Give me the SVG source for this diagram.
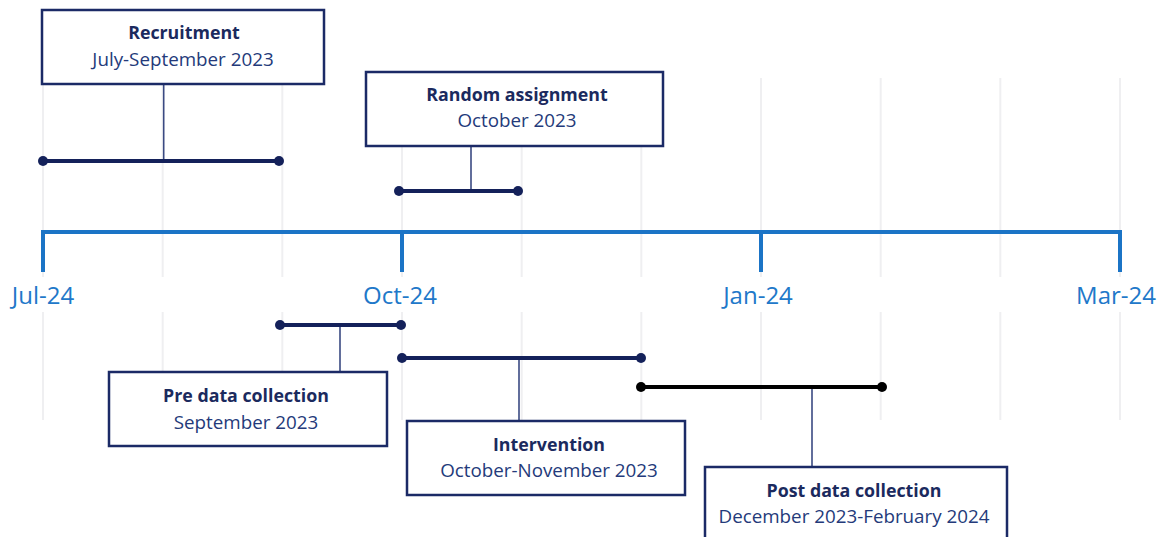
<svg xmlns="http://www.w3.org/2000/svg" width="1161" height="537" viewBox="0 0 1161 537">
<style>
.grid line{stroke:#efeff1;stroke-width:2}
.axis{fill:none;stroke:#1b74c6;stroke-width:4}
.lbl{font-family:"Open Sans","Noto Sans",sans-serif;font-size:24px;fill:#2178c9;text-anchor:middle}
.box{fill:#fff;stroke:#1b2a66;stroke-width:2.5}
.t{font-family:"Open Sans","Noto Sans",sans-serif;font-size:17.8px;font-weight:bold;fill:#1b2a5e;text-anchor:middle}
.s{font-family:"Open Sans","Noto Sans",sans-serif;font-size:18.8px;fill:#243a7a;text-anchor:middle}
.bar{stroke:#14215a;stroke-width:4}
.dot{fill:#14215a}
.conn{stroke:#3a4a82;stroke-width:1.6}
</style>
<rect width="1161" height="537" fill="#fff"/>
<g class="grid">
<line x1="43" y1="78" x2="43" y2="277"/><line x1="43" y1="312" x2="43" y2="420"/>
<line x1="162.7" y1="78" x2="162.7" y2="277"/><line x1="162.7" y1="312" x2="162.7" y2="420"/>
<line x1="282.3" y1="78" x2="282.3" y2="277"/><line x1="282.3" y1="312" x2="282.3" y2="420"/>
<line x1="402" y1="78" x2="402" y2="277"/><line x1="402" y1="312" x2="402" y2="420"/>
<line x1="521.7" y1="78" x2="521.7" y2="277"/><line x1="521.7" y1="312" x2="521.7" y2="420"/>
<line x1="641.3" y1="78" x2="641.3" y2="277"/><line x1="641.3" y1="312" x2="641.3" y2="420"/>
<line x1="761" y1="78" x2="761" y2="277"/><line x1="761" y1="312" x2="761" y2="420"/>
<line x1="880.7" y1="78" x2="880.7" y2="277"/><line x1="880.7" y1="312" x2="880.7" y2="420"/>
<line x1="1000.3" y1="78" x2="1000.3" y2="277"/><line x1="1000.3" y1="312" x2="1000.3" y2="420"/>
<line x1="1120" y1="78" x2="1120" y2="277"/><line x1="1120" y1="312" x2="1120" y2="420"/>
</g>
<g id="axis">
<path class="axis" d="M43 272V232H1120V272M402 232V272M761 232V272"/>
<text class="lbl" x="43" y="304">Jul-24</text>
<text class="lbl" x="400" y="304">Oct-24</text>
<text class="lbl" x="758" y="304">Jan-24</text>
<text class="lbl" x="1116" y="304">Mar-24</text>
</g>
<g id="connectors">
<line class="conn" x1="163.7" y1="84" x2="163.7" y2="161"/>
<line class="conn" x1="471" y1="146" x2="471" y2="191"/>
<line class="conn" x1="340" y1="325" x2="340" y2="372"/>
<line class="conn" x1="519" y1="358" x2="519" y2="421"/>
<line class="conn" x1="812" y1="387" x2="812" y2="467"/>
</g>
<g id="bars">
<line class="bar" x1="43" y1="161" x2="279" y2="161"/><circle class="dot" cx="43" cy="161" r="5"/><circle class="dot" cx="279" cy="161" r="5"/>
<line class="bar" x1="399" y1="191" x2="518" y2="191"/><circle class="dot" cx="399" cy="191" r="5"/><circle class="dot" cx="518" cy="191" r="5"/>
<line class="bar" x1="280" y1="325" x2="401" y2="325"/><circle class="dot" cx="280" cy="325" r="5"/><circle class="dot" cx="401" cy="325" r="5"/>
<line class="bar" x1="402" y1="358" x2="641" y2="358"/><circle class="dot" cx="402" cy="358" r="5"/><circle class="dot" cx="641" cy="358" r="5"/>
<line x1="641" y1="387" x2="882" y2="387" stroke="#000" stroke-width="4"/><circle cx="641" cy="387" r="5"/><circle cx="882" cy="387" r="5"/>
</g>
<g id="recruitment">
<rect class="box" x="42" y="10" width="282" height="74"/>
<text class="t" x="184" y="39">Recruitment</text>
<text class="s" x="183" y="66">July-September 2023</text>
</g>
<g id="random-assignment">
<rect class="box" x="366" y="72" width="297" height="74"/>
<text class="t" x="517" y="101">Random assignment</text>
<text class="s" x="517" y="127">October 2023</text>
</g>
<g id="pre-data-collection">
<rect class="box" x="109" y="372" width="278" height="74"/>
<text class="t" x="246" y="402">Pre data collection</text>
<text class="s" x="246" y="429">September 2023</text>
</g>
<g id="intervention">
<rect class="box" x="407" y="421" width="278" height="74"/>
<text class="t" x="549" y="451">Intervention</text>
<text class="s" x="549" y="477">October-November 2023</text>
</g>
<g id="post-data-collection">
<rect class="box" x="705" y="467" width="302" height="80"/>
<text class="t" x="854" y="497">Post data collection</text>
<text class="s" x="854" y="523">December 2023-February 2024</text>
</g>
</svg>
